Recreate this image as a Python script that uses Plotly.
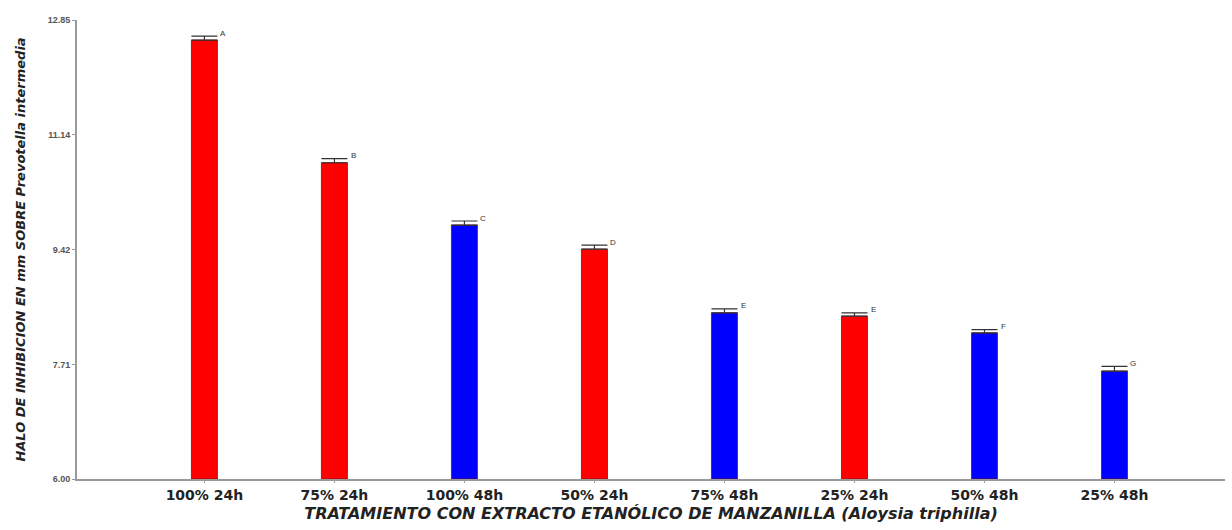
import plotly.graph_objects as go

# Treatments, mean inhibition halo (mm), standard error and Tukey group letters
categories = ["100% 24h", "75% 24h", "100% 48h", "50% 24h",
              "75% 48h", "25% 24h", "50% 48h", "25% 48h"]
values = [12.55, 10.72, 9.79, 9.43, 8.48, 8.43, 8.18, 7.61]
errors = [0.06, 0.06, 0.06, 0.06, 0.06, 0.05, 0.05, 0.07]
groups = ["A", "B", "C", "D", "E", "E", "F", "G"]
colors = ["#ff0000", "#ff0000", "#0000ff", "#ff0000",
          "#0000ff", "#ff0000", "#0000ff", "#0000ff"]
y_ticks = [6.00, 7.71, 9.42, 11.14, 12.85]

fig = go.Figure()
fig.add_trace(go.Bar(
    x=categories, y=[v - 6.0 for v in values], base=6.0,
    width=0.2,
    marker=dict(color=colors, line=dict(color="#7a1010", width=0.8)),
    error_y=dict(type="data", symmetric=False, array=errors,
                 arrayminus=[0] * len(errors), visible=True,
                 color="#333333", thickness=1.2, width=13),
    showlegend=False,
))

for cat, v, e, g in zip(categories, values, errors, groups):
    fig.add_annotation(x=cat, y=v + e, text=g, showarrow=False,
                       xshift=19, yshift=3,
                       font=dict(family="Liberation Sans", size=8, color="#333333"))

fig.update_layout(
    width=1232, height=530,
    margin=dict(l=77, r=7, t=20, b=51),
    plot_bgcolor="white", paper_bgcolor="white",
    bargap=0.8,
)
fig.update_xaxes(
    range=[-0.98, 7.85],
    showline=True, linecolor="#9a9a9a", linewidth=2,
    ticks="outside", ticklen=2, tickcolor="#9a9a9a",
    tickvals=categories, ticktext=[f"<b>{c}</b>" for c in categories],
    tickfont=dict(family="DejaVu Sans", size=14, color="#222222"),
    title=dict(text="<b><i>TRATAMIENTO CON EXTRACTO ETANÓLICO DE MANZANILLA (Aloysia triphilla)</i></b>",
               font=dict(family="DejaVu Sans", size=16, color="#222222"), standoff=6),
    showgrid=False, zeroline=False,
)
fig.update_yaxes(
    range=[6.0, 12.85],
    tickvals=y_ticks, ticktext=[f"<b>{t:.2f}</b>" for t in y_ticks],
    showline=True, linecolor="#9a9a9a", linewidth=2,
    ticks="outside", ticklen=3, tickcolor="#9a9a9a",
    tickfont=dict(family="Liberation Sans", size=9, color="#555555"),
    title=dict(text="<b><i>HALO DE INHIBICION EN mm SOBRE Prevotella intermedia</i></b>",
               font=dict(family="DejaVu Sans", size=13, color="#222222"), standoff=19),
    showgrid=False, zeroline=False,
)

fig.write_html("out.html")
